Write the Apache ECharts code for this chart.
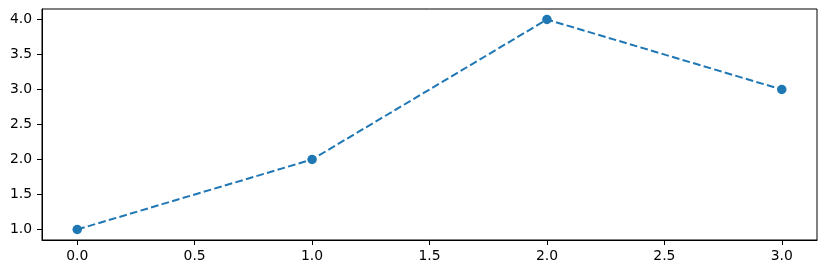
<!DOCTYPE html>
<html><head><meta charset="utf-8">
<script src="https://cdn.jsdelivr.net/npm/echarts@6/dist/echarts.min.js"></script>
<style>html,body{margin:0;padding:0;background:#fff}#c{width:826px;height:274px}</style>
</head><body><div id="c"></div>
<script>
const xValues = [0, 1, 2, 3];
const yValues = [1, 2, 4, 3];
const xTicks = [0, 0.5, 1, 1.5, 2, 2.5, 3];
const yTicks = [1, 1.5, 2, 2.5, 3, 3.5, 4];

const chart = echarts.init(document.getElementById('c'), null, {renderer: 'canvas'});
const font = {fontFamily: 'DejaVu Sans', fontSize: 13.9, color: '#000'};
chart.setOption({
  animation: false,
  grid: {left: 42, right: 9, top: 9, bottom: 34, show: true, borderColor: '#000', borderWidth: 1, backgroundColor: 'transparent'},
  xAxis: {
    type: 'value', min: -0.15, max: 3.15, position: 'bottom',
    splitLine: {show: false},
    axisLine: {show: true, onZero: false, lineStyle: {color: '#000', width: 1}},
    axisTick: {show: true, length: 5, inside: false, customValues: xTicks, lineStyle: {color: '#000', width: 1}},
    axisLabel: Object.assign({customValues: xTicks, margin: 9, formatter: v => v.toFixed(1)}, font)
  },
  yAxis: {
    type: 'value', min: 0.85, max: 4.15, position: 'left',
    splitLine: {show: false},
    axisLine: {show: true, onZero: false, lineStyle: {color: '#000', width: 1}},
    axisTick: {show: true, length: 5, inside: false, customValues: yTicks, lineStyle: {color: '#000', width: 1}},
    axisLabel: Object.assign({customValues: yTicks, margin: 10, formatter: v => v.toFixed(1)}, font)
  },
  series: [{
    type: 'line',
    data: xValues.map((x, i) => [x, yValues[i]]),
    symbol: 'circle', symbolSize: 9.5,
    itemStyle: {color: '#1f77b4'},
    lineStyle: {color: '#1f77b4', width: 2, type: [7.7, 3.3]}
  }]
});
</script></body></html>
